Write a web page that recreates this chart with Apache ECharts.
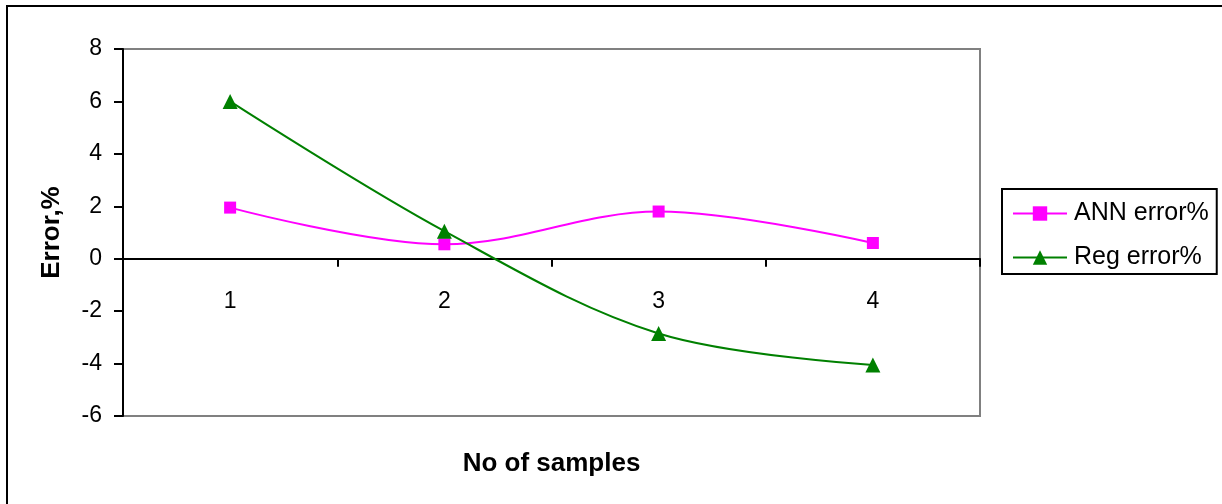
<!DOCTYPE html>
<html>
<head>
<meta charset="utf-8">
<style>
  html, body { margin: 0; padding: 0; background: #fff; }
  #chart { width: 1222px; height: 504px; }
</style>
<script src="https://cdn.jsdelivr.net/npm/echarts@6/dist/echarts.min.js"></script>
</head>
<body>
<div id="chart"></div>
<script>
// 数据
const samples = ['1', '2', '3', '4'];
const annError = [1.95, 0.55, 1.8, 0.6];
const regError = [6.0, 1.05, -2.85, -4.05];
const yTicks = { min: -6, max: 8, interval: 2 };

const FONT = '"Liberation Sans", Arial, sans-serif';

const myChart = echarts.init(document.getElementById('chart'), null, { renderer: 'canvas' });

const option = {
    animation: false,
    backgroundColor: '#fff',
    textStyle: { fontFamily: FONT },
    grid: {
        left: 123, top: 49, right: 242, bottom: 88,
        containLabel: false,
        outerBoundsMode: 'none',
        show: true, borderColor: '#808080', borderWidth: 2
    },
    legend: {
        orient: 'vertical',
        left: 1002, top: 189,
        padding: [12, 8, 4, 10],
        itemGap: 19,
        itemWidth: 54, itemHeight: 18,
        borderColor: '#000', borderWidth: 2,
        textStyle: { fontFamily: FONT, fontSize: 25, color: '#000', padding: [0, 0, 0, 2] },
        data: ['ANN error%', 'Reg error%']
    },
    xAxis: {
        type: 'category',
        data: samples,
        name: 'No of samples',
        nameLocation: 'middle',
        nameGap: 35,
        nameTextStyle: { fontFamily: FONT, fontSize: 26, fontWeight: 'bold', color: '#000' },
        axisLine: { onZero: true, lineStyle: { color: '#000', width: 2 } },
        axisTick: { show: true, length: 8, lineStyle: { color: '#000', width: 2 } },
        // 标签在0轴下方
        axisLabel: { fontFamily: FONT, fontSize: 23, color: '#000', margin: -126 },
        splitLine: { show: false }
    },
    yAxis: {
        type: 'value',
        min: yTicks.min, max: yTicks.max, interval: yTicks.interval,
        name: 'Error,%',
        nameLocation: 'middle',
        nameRotate: 90,
        nameGap: 58,
        nameTextStyle: { fontFamily: FONT, fontSize: 26, fontWeight: 'bold', color: '#000' },
        axisLine: { show: true, lineStyle: { color: '#000', width: 2 } },
        axisTick: { show: true, length: 9, lineStyle: { color: '#000', width: 2 } },
        axisLabel: { fontFamily: FONT, fontSize: 23, color: '#000', margin: 21 },
        splitLine: { show: false }
    },
    series: [
        {
            name: 'ANN error%',
            type: 'line',
            data: annError,
            smooth: 0.35,
            symbol: 'rect',
            symbolSize: 12,
            lineStyle: { color: '#ff00ff', width: 2 },
            itemStyle: { color: '#ff00ff' }
        },
        {
            name: 'Reg error%',
            type: 'line',
            data: regError,
            smooth: 0.35,
            symbol: 'triangle',
            symbolSize: 15,
            lineStyle: { color: '#008000', width: 2 },
            itemStyle: { color: '#008000' }
        }
    ],
    graphic: [
        {
            type: 'rect',
            silent: true,
            z: -1,
            shape: { x: 7, y: 6, width: 1300, height: 600 },
            style: { fill: null, stroke: '#000', lineWidth: 2 }
        }
    ]
};

myChart.setOption(option);
</script>
</body>
</html>
